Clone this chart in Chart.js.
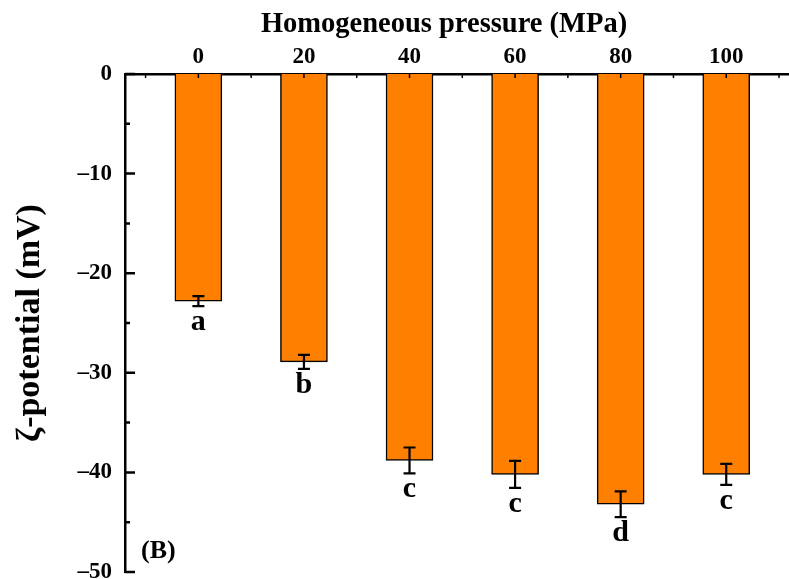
<!DOCTYPE html>
<html>
<head>
<meta charset="utf-8">
<script src="https://cdn.jsdelivr.net/npm/chart.js@4"></script>
<style>
  body { margin: 0; background: #fff; }
  #wrap { width: 789px; height: 579px; }
</style>
</head>
<body>
<div id="wrap"><canvas id="zetaChart" width="789" height="579"></canvas></div>
<script>
const pressures = [0, 20, 40, 60, 80, 100];
const zeta = [-22.8, -28.9, -38.8, -40.2, -43.2, -40.2];
const zetaErr = [0.5, 0.7, 1.3, 1.35, 1.3, 1.05];
const letters = ['a', 'b', 'c', 'c', 'd', 'c'];
const yTicks = [0, -10, -20, -30, -40, -50];
const yMinor = [-5, -15, -25, -35, -45];
const xMinor = [-10, 10, 30, 50, 70, 90, 110];

const serif = "'Liberation Serif', 'Times New Roman', serif";

// error bars, letters, inward ticks, x title and panel label
const extras = {
  id: 'extras',
  afterDatasetsDraw(chart) {
    const ctx = chart.ctx;
    const x = chart.scales.x;
    const y = chart.scales.y;
    const area = chart.chartArea;
    ctx.save();
    ctx.strokeStyle = '#000';
    ctx.fillStyle = '#000';

    // error bars
    ctx.lineWidth = 2.2;
    pressures.forEach((p, i) => {
      const cx = x.getPixelForValue(p);
      const top = y.getPixelForValue(zeta[i] + zetaErr[i]);
      const bot = y.getPixelForValue(zeta[i] - zetaErr[i]);
      ctx.beginPath();
      ctx.moveTo(cx, top); ctx.lineTo(cx, bot);
      ctx.moveTo(cx - 6, top); ctx.lineTo(cx + 6, top);
      ctx.moveTo(cx - 6, bot); ctx.lineTo(cx + 6, bot);
      ctx.stroke();
      ctx.font = 'bold 30px ' + serif;
      ctx.textAlign = 'center';
      ctx.textBaseline = 'alphabetic';
      ctx.fillText(letters[i], cx, bot + 24);
    });

    // y ticks (inward)
    ctx.lineWidth = 2.5;
    ctx.beginPath();
    yTicks.forEach(v => {
      const py = y.getPixelForValue(v);
      ctx.moveTo(area.left, py); ctx.lineTo(area.left + 10, py);
    });
    yMinor.forEach(v => {
      const py = y.getPixelForValue(v);
      ctx.moveTo(area.left, py); ctx.lineTo(area.left + 5, py);
    });
    ctx.stroke();

    // x ticks (inward, from top axis)
    ctx.lineWidth = 1.5;
    ctx.beginPath();
    pressures.concat(xMinor).forEach(v => {
      const px = x.getPixelForValue(v);
      ctx.moveTo(px, area.top); ctx.lineTo(px, area.top + 4);
    });
    ctx.stroke();

    // x axis title
    ctx.font = 'bold 28.5px ' + serif;
    ctx.textAlign = 'center';
    ctx.textBaseline = 'alphabetic';
    ctx.fillText('Homogeneous pressure (MPa)', 444, 32);

    // panel label
    ctx.font = 'bold 26px ' + serif;
    ctx.textAlign = 'left';
    ctx.fillText('(B)', 141, 558);
    ctx.restore();
  }
};

new Chart(document.getElementById('zetaChart'), {
  type: 'bar',
  data: {
    datasets: [{
      data: pressures.map((p, i) => ({ x: p, y: zeta[i] })),
      backgroundColor: '#FF8000',
      borderColor: '#000',
      borderWidth: 1.5,
      barThickness: 47
    }]
  },
  options: {
    responsive: false,
    animation: false,
    layout: { padding: { top: 0, right: 1, bottom: 7, left: 0 } },
    plugins: {
      legend: { display: false },
      tooltip: { enabled: false }
    },
    scales: {
      x: {
        type: 'linear',
        position: 'top',
        offset: false,
        min: -13.9,
        max: 111.7,
        grid: { display: false, drawTicks: false, offset: false },
        border: { display: true, color: '#000', width: 2.5 },
        ticks: {
          color: '#000',
          padding: 3,
          font: { family: serif, size: 23, weight: 'bold' }
        },
        afterBuildTicks(scale) {
          scale.ticks = pressures.map(v => ({ value: v }));
        },
        afterFit(scale) {
          scale.height = 74;
          scale.paddingLeft = 0;
          scale.paddingRight = 0;
        }
      },
      y: {
        min: -50,
        max: 0,
        grid: { display: false, drawTicks: false },
        border: { display: true, color: '#000', width: 2.5 },
        afterBuildTicks(scale) {
          scale.ticks = yTicks.map(v => ({ value: v }));
        },
        ticks: {
          color: '#000',
          padding: 13,
          font: { family: serif, size: 23, weight: 'bold' },
          callback: v => (v < 0 ? '\u2013' + Math.abs(v) : String(v))
        },
        title: {
          display: true,
          text: 'ζ-potential (mV)',
          color: '#000',
          font: { family: serif, size: 34, weight: 'bold' },
          padding: { top: 10, bottom: 0 }
        },
        afterFit(scale) {
          scale.width = 125;
          scale.paddingTop = 0;
          scale.paddingBottom = 0;
        }
      }
    }
  },
  plugins: [extras]
});
</script>
</body>
</html>
